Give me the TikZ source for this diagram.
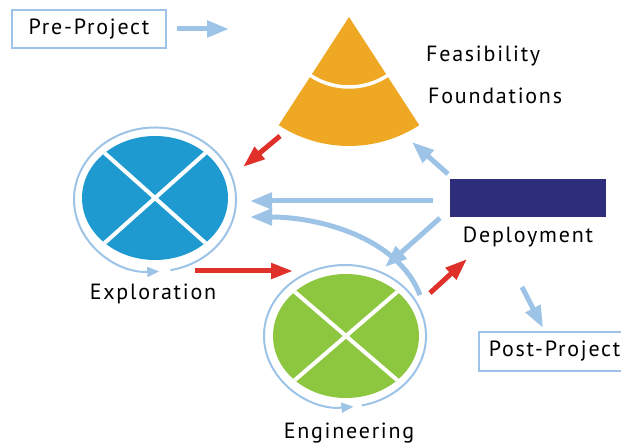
\documentclass[tikz,border=0pt]{standalone}
\usepackage{fontspec}
\setmainfont{PT Sans}[LetterSpace=8]
\usetikzlibrary{arrows.meta,shapes.geometric}
\definecolor{lblue}{RGB}{157,195,230}
\definecolor{myred}{RGB}{224,48,42}
\definecolor{myorange}{RGB}{238,168,35}
\definecolor{mygreen}{RGB}{141,198,63}
\definecolor{myblue}{RGB}{30,154,208}
\definecolor{navy}{RGB}{46,45,124}
\tikzset{
  lbl/.style={font=\fontsize{22}{26}\selectfont, inner sep=0pt},
  phasebox/.style={draw=lblue, line width=1.5pt, minimum height=38pt, inner xsep=10pt, font=\fontsize{22}{26}\selectfont},
  barrow/.style={draw=lblue, line width=5pt, -{Triangle[length=22pt,width=16pt]}},
  rarrow/.style={draw=myred, line width=5pt, -{Triangle[length=22pt,width=15pt]}},
  ringarrow/.style={draw=lblue, line width=2pt, -{Triangle[length=12pt,width=10pt]}},
  disc/.style={ellipse, minimum width=146pt, minimum height=124pt, inner sep=0pt},
  crossline/.style={draw=white, line width=4pt},
}
\begin{document}
\begin{tikzpicture}[x=1pt,y=1pt]
\useasboundingbox (0,0) rectangle (621,-443);
% Pre-Project
\node[phasebox, minimum width=154pt] (pre) at (89,-29) {Pre-Project};
\coordinate (preTip) at (229,-29);
\draw[barrow] ([xshift=10pt]pre.east) -- (preTip);
% Feasibility sector
\coordinate (apex) at (349,-17);
\fill[myorange] (apex) -- ++(237:129) arc[start angle=237, end angle=303, radius=129] -- cycle;
\draw[white, line width=3.5pt] (apex) ++(236.5:70) arc[start angle=236.5, end angle=303.5, radius=70];
\node[lbl, anchor=base west] (feas) at (426,-62) {Feasibility};
\node[lbl, anchor=base west] (found) at (428,-104) {Foundations};
% Deployment
\fill[navy] (450,-179) rectangle (606,-217);
\coordinate (dep) at (528,-198);
\node[lbl, anchor=base] (deplbl) at (528,-243) {Deployment};
% Exploration
\node[disc, fill=myblue] (expl) at (155,-198) {};
\begin{scope}
  \clip (expl.center) ellipse[x radius=73, y radius=62];
  \draw[crossline] (expl.center) -- ++(65,-58);
  \draw[crossline] (expl.center) -- ++(-65,58);
  \draw[crossline] (expl.center) -- ++(65,58);
  \draw[crossline] (expl.center) -- ++(-65,-58);
\end{scope}
\draw[ringarrow] ([yshift=-1.5pt]expl.center) ++(281:81 and 72) arc[start angle=281, end angle=633, x radius=81, y radius=72];
\node[lbl, anchor=base] (expllbl) at (153,-300) {Exploration};
% Engineering
\node[disc, fill=mygreen] (eng) at (346,-336) {};
\begin{scope}
  \clip (eng.center) ellipse[x radius=73, y radius=62];
  \draw[crossline] (eng.center) -- ++(65,-56);
  \draw[crossline] (eng.center) -- ++(-65,56);
  \draw[crossline] (eng.center) -- ++(65,56);
  \draw[crossline] (eng.center) -- ++(-65,-56);
\end{scope}
\draw[ringarrow] ([xshift=-1pt]eng.center) ++(282:81 and 71) arc[start angle=282, end angle=636, x radius=81, y radius=71];
\node[lbl, anchor=base] (englbl) at (349,-438) {Engineering};
% Post-Project
\node[phasebox, minimum height=39pt, anchor=west] (post) at (478,-351.5) {Post-Project};
% connectors
\coordinate (r1s) at (280,-136); \coordinate (r1e) at (243,-167);
\draw[rarrow] (r1s) -- (r1e);
\coordinate (b3s) at (448,-174); \coordinate (b3e) at (412,-142);
\draw[barrow] (b3s) -- (b3e);
\coordinate (b4s) at (433,-201); \coordinate (b4e) at (250,-201);
\draw[barrow] (b4s) -- (b4e);
\coordinate (b5s) at (420,-295); \coordinate (b5e) at (250,-217);
\draw[barrow] (b5s) .. controls (398,-238) and (320,-217) .. (b5e);
\coordinate (b6s) at (440,-218); \coordinate (b6e) at (385,-267);
\draw[barrow] (b6s) -- (b6e);
\coordinate (r7s) at (195,-271); \coordinate (r7e) at (293,-271);
\draw[rarrow] (r7s) -- (r7e);
\coordinate (r8s) at (430,-293); \coordinate (r8e) at (467,-259);
\draw[rarrow] (r8s) -- (r8e);
\coordinate (b9s) at (522,-287); \coordinate (b9e) at (543,-328);
\draw[barrow] (b9s) -- (b9e);
\end{tikzpicture}
\end{document}
